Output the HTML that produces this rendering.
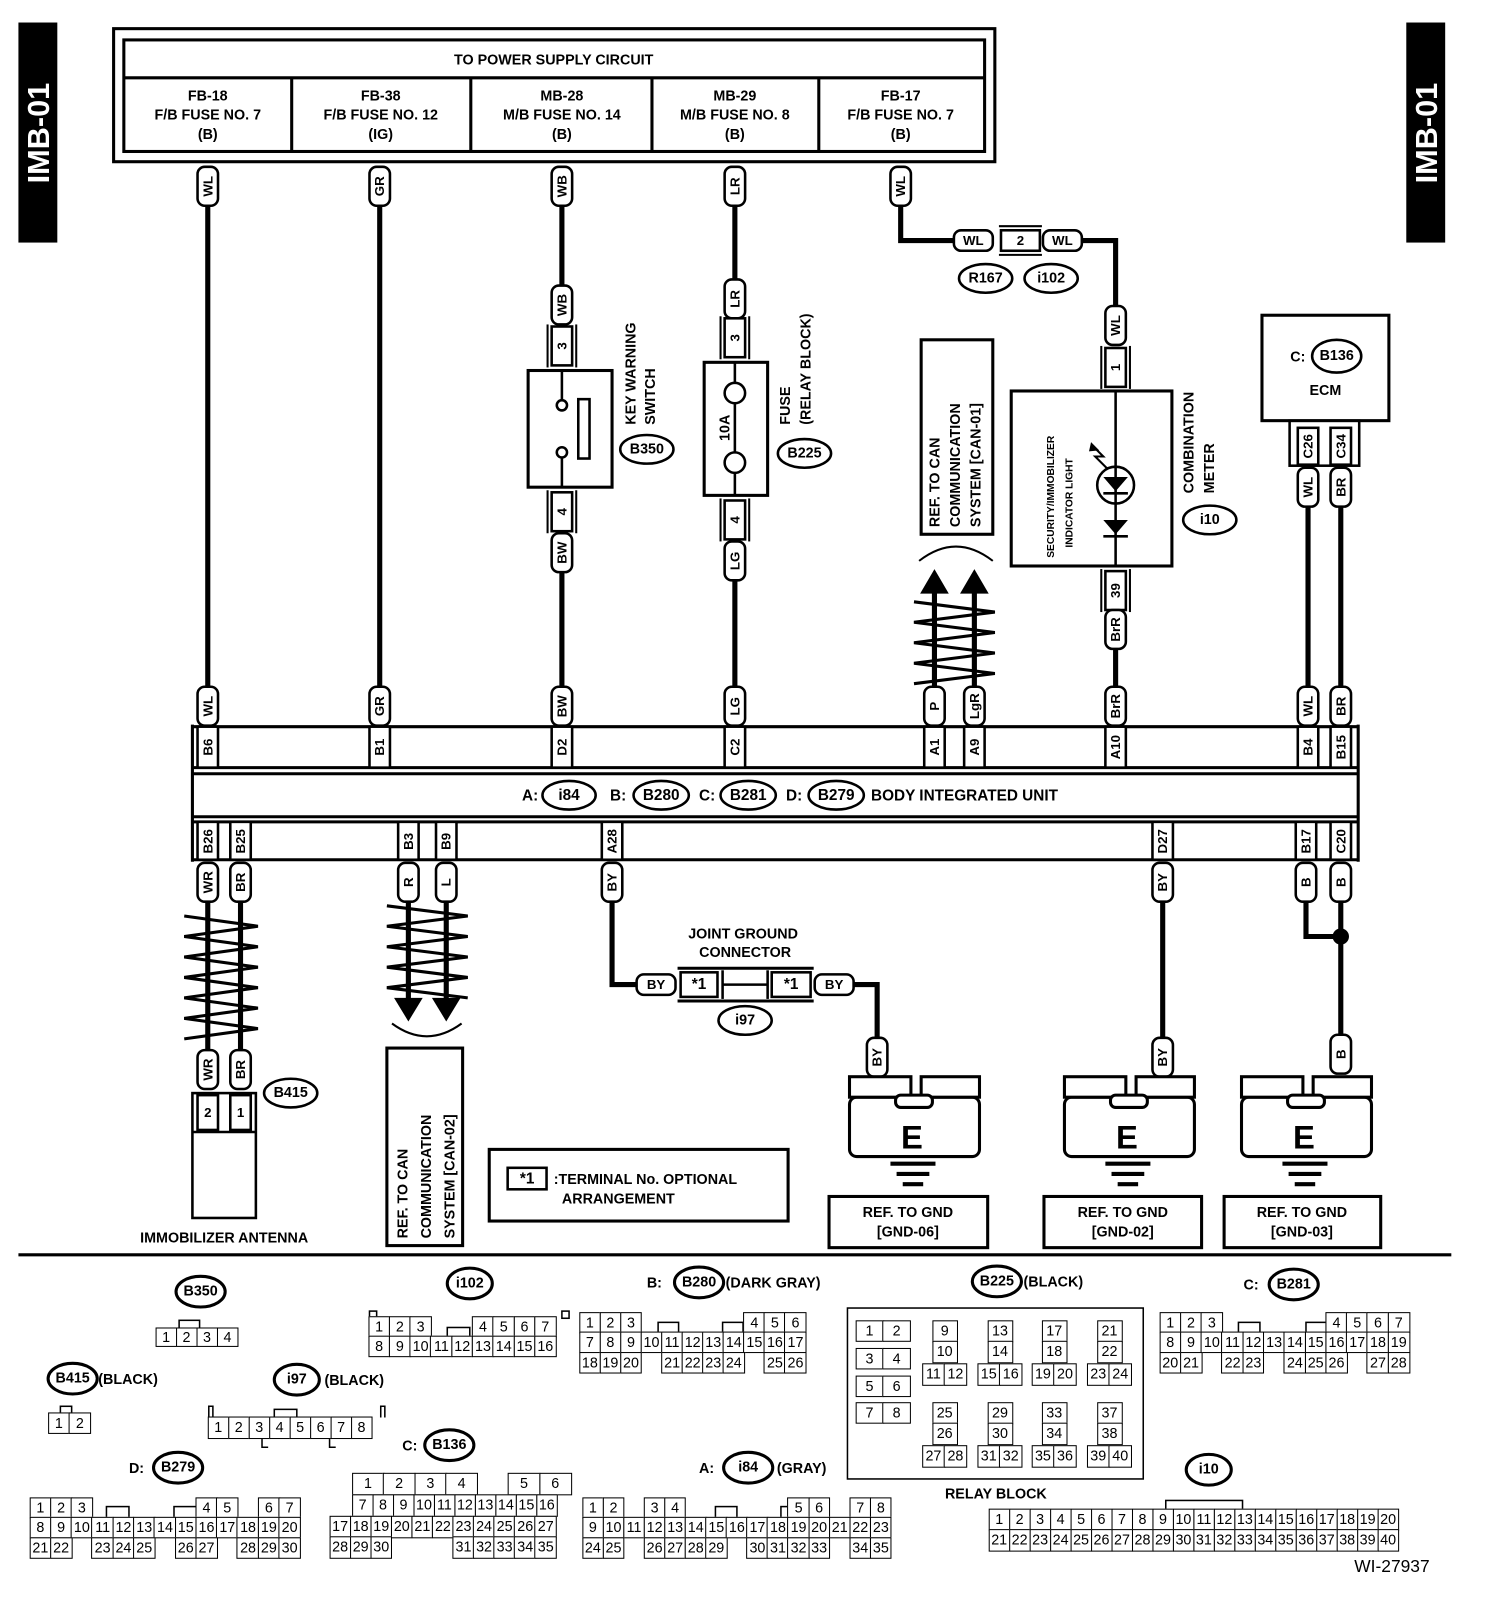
<!DOCTYPE html>
<html><head><meta charset="utf-8"><style>
html,body{margin:0;padding:0;background:#fff;overflow:hidden;width:1504px;height:1604px}
#w{position:relative;width:1460px;height:1567px;transform:scale(1.0235,1.0235);transform-origin:0 0;font-family:"Liberation Sans",sans-serif}
svg{position:absolute;left:0;top:0}
svg text{font-family:"Liberation Sans",sans-serif;font-weight:bold;fill:#000}
.pt{font-size:13px;text-anchor:middle;dominant-baseline:central}
.g{position:absolute;font-family:"Liberation Sans Narrow","Liberation Sans",sans-serif;font-size:14px}
.g div{display:flex;margin-top:-1.5px}
.g i{font-style:normal;display:block;box-sizing:border-box;width:var(--w);height:var(--h);line-height:calc(var(--h) - 3px);border:1.5px solid #000;margin-left:-1.5px;text-align:center;background:#fff}
.g i.n{border-color:transparent;background:transparent}
</style></head><body><div id="w">
<svg width="1460" height="1567" viewBox="0 0 1460 1567">
<defs>
<rect id="pv" x="-10" y="-19" width="20" height="38" rx="7" fill="#fff" stroke="#000" stroke-width="2.5"/>
<rect id="ph" x="-19" y="-10" width="38" height="20" rx="7" fill="#fff" stroke="#000" stroke-width="2.5"/>
<g id="tb"><rect x="-10" y="-19" width="20" height="38" fill="#fff" stroke="#000" stroke-width="2.5"/><line x1="-14" y1="-21" x2="-14" y2="21" stroke="#000" stroke-width="2"/><line x1="14" y1="-21" x2="14" y2="21" stroke="#000" stroke-width="2"/></g>
<g id="gnd" fill="#fff" stroke="#000" stroke-width="3">
<rect x="0" y="20" width="127" height="58" rx="7"/>
<rect x="0" y="0" width="60" height="20"/><rect x="70" y="0" width="57" height="20"/>
<rect x="45" y="18" width="36" height="12" rx="5"/>
<line x1="40" y1="85" x2="84" y2="85" stroke-width="4"/><line x1="46" y1="95" x2="78" y2="95" stroke-width="4"/><line x1="52" y1="105" x2="72" y2="105" stroke-width="4"/>
</g>
</defs>
<rect x="18" y="22" width="38" height="215" fill="#000"/>
<text transform="translate(48,130) rotate(-90)" style="font-size:30px;fill:#fff;text-anchor:middle">IMB-01</text>
<rect x="1374" y="22" width="38" height="215" fill="#000"/>
<text transform="translate(1404,130) rotate(-90)" style="font-size:30px;fill:#fff;text-anchor:middle">IMB-01</text>
<g fill="none" stroke="#000" stroke-width="3">
<rect x="111" y="28" width="861" height="130"/>
<rect x="121" y="39" width="841" height="109"/>
<line x1="121" y1="76" x2="962" y2="76"/>
<line x1="285" y1="76" x2="285" y2="148"/><line x1="460" y1="76" x2="460" y2="148"/><line x1="637" y1="76" x2="637" y2="148"/><line x1="800" y1="76" x2="800" y2="148"/>
</g>
<g style="font-size:14px;text-anchor:middle">
<text x="541" y="63">TO POWER SUPPLY CIRCUIT</text>
<text x="203" y="98">FB-18</text><text x="203" y="117">F/B FUSE NO. 7</text><text x="203" y="136">(B)</text>
<text x="372" y="98">FB-38</text><text x="372" y="117">F/B FUSE NO. 12</text><text x="372" y="136">(IG)</text>
<text x="549" y="98">MB-28</text><text x="549" y="117">M/B FUSE NO. 14</text><text x="549" y="136">(B)</text>
<text x="718" y="98">MB-29</text><text x="718" y="117">M/B FUSE NO. 8</text><text x="718" y="136">(B)</text>
<text x="880" y="98">FB-17</text><text x="880" y="117">F/B FUSE NO. 7</text><text x="880" y="136">(B)</text>
</g>
<g stroke="#000" stroke-width="5" fill="none">
<line x1="203" y1="195" x2="203" y2="675"/>
<line x1="371" y1="195" x2="371" y2="675"/>
<line x1="549" y1="195" x2="549" y2="285"/><line x1="549" y1="555" x2="549" y2="675"/>
<line x1="718" y1="195" x2="718" y2="280"/><line x1="718" y1="560" x2="718" y2="675"/>
<polyline points="880,195 880,235 935,235"/>
<polyline points="1055,235 1090,235 1090,305"/>
<line x1="1090" y1="630" x2="1090" y2="675"/>
<line x1="913" y1="575" x2="913" y2="675"/><line x1="952" y1="575" x2="952" y2="675"/>
<line x1="1278" y1="490" x2="1278" y2="675"/><line x1="1310" y1="490" x2="1310" y2="675"/>
<line x1="203" y1="878" x2="203" y2="1030"/><line x1="235" y1="878" x2="235" y2="1030"/>
<line x1="399" y1="878" x2="399" y2="985"/><line x1="436" y1="878" x2="436" y2="985"/>
<polyline points="598,878 598,962 625,962"/>
<polyline points="832,962 857,962 857,1018"/>
<line x1="1136" y1="878" x2="1136" y2="1018"/>
<polyline points="1276,878 1276,915 1310,915"/>
<line x1="1310" y1="878" x2="1310" y2="1012"/>
</g>
<circle cx="1310" cy="915" r="8" fill="#000"/>
<g stroke="#000" stroke-width="3" fill="none">
<polyline points="180,895 252,905 180,915 252,925 180,935 252,945 180,955 252,965 180,975 252,985 180,995 252,1005 180,1015"/>
<polyline points="378,885 457,895 378,905 457,915 378,925 457,935 378,945 457,955 378,965 457,975"/>
<polyline points="893,588 972,598 893,608 972,618 893,628 972,638 893,648 972,658 893,668"/>
<path d="M898,548 Q934,520 970,548" stroke-width="2"/>
<path d="M383,1000 Q417,1025 451,1000" stroke-width="2"/>
</g>
<polygon points="913,556 899,580 927,580" fill="#000"/><polygon points="952,556 938,580 966,580" fill="#000"/>
<polygon points="399,998 385,975 413,975" fill="#000"/><polygon points="436,998 422,975 450,975" fill="#000"/>
<g transform="translate(203,182)"><use href="#pv"/><text class="pt" transform="rotate(-90)">WL</text></g>
<g transform="translate(371,182)"><use href="#pv"/><text class="pt" transform="rotate(-90)">GR</text></g>
<g transform="translate(549,182)"><use href="#pv"/><text class="pt" transform="rotate(-90)">WB</text></g>
<g transform="translate(718,182)"><use href="#pv"/><text class="pt" transform="rotate(-90)">LR</text></g>
<g transform="translate(880,182)"><use href="#pv"/><text class="pt" transform="rotate(-90)">WL</text></g>
<g transform="translate(549,298)"><use href="#pv"/><text class="pt" transform="rotate(-90)">WB</text></g>
<g transform="translate(549,338)"><use href="#tb"/><text class="pt" transform="rotate(-90)">3</text></g>
<rect x="516" y="362" width="82" height="114" fill="#fff" stroke="#000" stroke-width="3"/>
<g stroke="#000" stroke-width="2.5" fill="#fff"><line x1="549" y1="362" x2="549" y2="391"/><line x1="549" y1="447" x2="549" y2="476"/><circle cx="549" cy="396" r="5"/><circle cx="549" cy="442" r="5"/><rect x="565" y="390" width="11" height="58"/></g>
<g transform="translate(549,500)"><use href="#tb"/><text class="pt" transform="rotate(-90)">4</text></g>
<g transform="translate(549,540)"><use href="#pv"/><text class="pt" transform="rotate(-90)">BW</text></g>
<text transform="translate(621,415) rotate(-90)" style="font-size:14px">KEY WARNING</text>
<text transform="translate(640,415) rotate(-90)" style="font-size:14px">SWITCH</text>
<ellipse cx="632" cy="439" rx="26" ry="14" fill="#fff" stroke="#000" stroke-width="2.5"/><text x="632" y="439" class="pt" style="font-size:14px">B350</text>
<g transform="translate(718,292)"><use href="#pv"/><text class="pt" transform="rotate(-90)">LR</text></g>
<g transform="translate(718,330)"><use href="#tb"/><text class="pt" transform="rotate(-90)">3</text></g>
<rect x="688" y="354" width="62" height="130" fill="#fff" stroke="#000" stroke-width="3"/>
<g stroke="#000" stroke-width="2.5" fill="#fff"><line x1="718" y1="354" x2="718" y2="484"/><circle cx="718" cy="384" r="10"/><circle cx="718" cy="452" r="10"/></g>
<text transform="translate(709,418) rotate(-90)" class="pt" style="font-size:14px">10A</text>
<g transform="translate(718,508)"><use href="#tb"/><text class="pt" transform="rotate(-90)">4</text></g>
<g transform="translate(718,548)"><use href="#pv"/><text class="pt" transform="rotate(-90)">LG</text></g>
<text transform="translate(772,415) rotate(-90)" style="font-size:14px">FUSE</text>
<text transform="translate(792,415) rotate(-90)" style="font-size:14px">(RELAY BLOCK)</text>
<ellipse cx="786" cy="443" rx="26" ry="14" fill="#fff" stroke="#000" stroke-width="2.5"/><text x="786" y="443" class="pt" style="font-size:14px">B225</text>
<g transform="translate(951,235)"><use href="#ph"/><text class="pt">WL</text></g>
<rect x="978" y="225" width="38" height="20" fill="#fff" stroke="#000" stroke-width="2.5"/><line x1="976" y1="221" x2="1018" y2="221" stroke="#000" stroke-width="2"/><line x1="976" y1="249" x2="1018" y2="249" stroke="#000" stroke-width="2"/><text x="997" y="235" class="pt">2</text>
<g transform="translate(1038,235)"><use href="#ph"/><text class="pt">WL</text></g>
<ellipse cx="963" cy="272" rx="26" ry="14" fill="#fff" stroke="#000" stroke-width="2.5"/><text x="963" y="272" class="pt" style="font-size:14px">R167</text>
<ellipse cx="1027" cy="272" rx="26" ry="14" fill="#fff" stroke="#000" stroke-width="2.5"/><text x="1027" y="272" class="pt" style="font-size:14px">i102</text>
<g transform="translate(1090,318)"><use href="#pv"/><text class="pt" transform="rotate(-90)">WL</text></g>
<g transform="translate(1090,359)"><use href="#tb"/><text class="pt" transform="rotate(-90)">1</text></g>
<rect x="988" y="382" width="157" height="171" fill="#fff" stroke="#000" stroke-width="3"/>
<line x1="1090" y1="382" x2="1090" y2="553" stroke="#000" stroke-width="2.5"/>
<circle cx="1090" cy="474" r="18" fill="none" stroke="#000" stroke-width="2.5"/>
<polygon points="1078,466 1102,466 1090,480" fill="#000"/><line x1="1078" y1="482" x2="1102" y2="482" stroke="#000" stroke-width="2.5"/>
<polygon points="1078,508 1102,508 1090,522" fill="#000"/><line x1="1078" y1="524" x2="1102" y2="524" stroke="#000" stroke-width="2.5"/>
<polyline points="1082,458 1070,446 1078,446 1068,436" fill="none" stroke="#000" stroke-width="2"/><polygon points="1066,432 1074,440 1064,441" fill="#000"/>
<text transform="translate(1030,545) rotate(-90)" style="font-size:10px">SECURITY/IMMOBILIZER</text>
<text transform="translate(1048,535) rotate(-90)" style="font-size:10px">INDICATOR LIGHT</text>
<g transform="translate(1090,577)"><use href="#tb"/><text class="pt" transform="rotate(-90)">39</text></g>
<g transform="translate(1090,615)"><use href="#pv"/><text class="pt" transform="rotate(-90)">BrR</text></g>
<text transform="translate(1166,482) rotate(-90)" style="font-size:14px">COMBINATION</text>
<text transform="translate(1186,482) rotate(-90)" style="font-size:14px">METER</text>
<ellipse cx="1182" cy="508" rx="26" ry="14" fill="#fff" stroke="#000" stroke-width="2.5"/><text x="1182" y="508" class="pt" style="font-size:14px">i10</text>
<rect x="900" y="332" width="70" height="190" fill="#fff" stroke="#000" stroke-width="3"/>
<text transform="translate(918,515) rotate(-90)" style="font-size:14px">REF. TO CAN</text>
<text transform="translate(938,515) rotate(-90)" style="font-size:14px">COMMUNICATION</text>
<text transform="translate(958,515) rotate(-90)" style="font-size:14px">SYSTEM [CAN-01]</text>
<rect x="1233" y="308" width="124" height="103" fill="#fff" stroke="#000" stroke-width="3"/>
<text x="1268" y="353" style="font-size:14px;text-anchor:middle">C:</text>
<ellipse cx="1306" cy="348" rx="24" ry="16" fill="#fff" stroke="#000" stroke-width="2.5"/><text x="1306" y="348" class="pt" style="font-size:14px">B136</text>
<text x="1295" y="386" style="font-size:14px;text-anchor:middle">ECM</text>
<rect x="1260" y="411" width="68" height="44" fill="none" stroke="#000" stroke-width="2.5"/>
<g transform="translate(1278,436)"><rect x="-10" y="-18" width="20" height="36" fill="#fff" stroke="#000" stroke-width="2.5"/><text class="pt" transform="rotate(-90)">C26</text></g>
<g transform="translate(1310,436)"><rect x="-10" y="-18" width="20" height="36" fill="#fff" stroke="#000" stroke-width="2.5"/><text class="pt" transform="rotate(-90)">C34</text></g>
<g transform="translate(1278,476)"><use href="#pv"/><text class="pt" transform="rotate(-90)">WL</text></g>
<g transform="translate(1310,476)"><use href="#pv"/><text class="pt" transform="rotate(-90)">BR</text></g>
<g transform="translate(203,690)"><use href="#pv"/><text class="pt" transform="rotate(-90)">WL</text></g>
<g transform="translate(371,690)"><use href="#pv"/><text class="pt" transform="rotate(-90)">GR</text></g>
<g transform="translate(549,690)"><use href="#pv"/><text class="pt" transform="rotate(-90)">BW</text></g>
<g transform="translate(718,690)"><use href="#pv"/><text class="pt" transform="rotate(-90)">LG</text></g>
<g transform="translate(913,690)"><use href="#pv"/><text class="pt" transform="rotate(-90)">P</text></g>
<g transform="translate(952,690)"><use href="#pv"/><text class="pt" transform="rotate(-90)">LgR</text></g>
<g transform="translate(1090,690)"><use href="#pv"/><text class="pt" transform="rotate(-90)">BrR</text></g>
<g transform="translate(1278,690)"><use href="#pv"/><text class="pt" transform="rotate(-90)">WL</text></g>
<g transform="translate(1310,690)"><use href="#pv"/><text class="pt" transform="rotate(-90)">BR</text></g>
<g stroke="#000" stroke-width="3" fill="none">
<line x1="188" y1="710" x2="1327" y2="710"/><line x1="188" y1="750" x2="1327" y2="750"/>
<line x1="188" y1="756" x2="1327" y2="756"/><line x1="188" y1="798" x2="1327" y2="798"/>
<line x1="188" y1="803" x2="1327" y2="803"/><line x1="188" y1="840" x2="1327" y2="840"/>
<line x1="188" y1="708" x2="188" y2="842"/><line x1="1327" y1="708" x2="1327" y2="842"/>
</g>
<g stroke="#000" stroke-width="2.5" fill="#fff">
<rect x="193" y="710" width="20" height="40"/><rect x="361" y="710" width="20" height="40"/><rect x="539" y="710" width="20" height="40"/><rect x="708" y="710" width="20" height="40"/><rect x="903" y="710" width="20" height="40"/><rect x="942" y="710" width="20" height="40"/><rect x="1080" y="710" width="20" height="40"/><rect x="1268" y="710" width="20" height="40"/><rect x="1300" y="710" width="20" height="40"/>
<rect x="193" y="803" width="20" height="37"/><rect x="225" y="803" width="20" height="37"/><rect x="389" y="803" width="20" height="37"/><rect x="426" y="803" width="20" height="37"/><rect x="588" y="803" width="20" height="37"/><rect x="1126" y="803" width="20" height="37"/><rect x="1266" y="803" width="20" height="37"/><rect x="1300" y="803" width="20" height="37"/>
</g>
<g>
<text class="pt" transform="translate(203,730) rotate(-90)">B6</text><text class="pt" transform="translate(371,730) rotate(-90)">B1</text><text class="pt" transform="translate(549,730) rotate(-90)">D2</text><text class="pt" transform="translate(718,730) rotate(-90)">C2</text><text class="pt" transform="translate(913,730) rotate(-90)">A1</text><text class="pt" transform="translate(952,730) rotate(-90)">A9</text><text class="pt" transform="translate(1090,730) rotate(-90)">A10</text><text class="pt" transform="translate(1278,730) rotate(-90)">B4</text><text class="pt" transform="translate(1310,730) rotate(-90)">B15</text>
<text class="pt" transform="translate(203,822) rotate(-90)">B26</text><text class="pt" transform="translate(235,822) rotate(-90)">B25</text><text class="pt" transform="translate(399,822) rotate(-90)">B3</text><text class="pt" transform="translate(436,822) rotate(-90)">B9</text><text class="pt" transform="translate(598,822) rotate(-90)">A28</text><text class="pt" transform="translate(1136,822) rotate(-90)">D27</text><text class="pt" transform="translate(1276,822) rotate(-90)">B17</text><text class="pt" transform="translate(1310,822) rotate(-90)">C20</text>
</g>
<g style="font-size:15px">
<text x="510" y="782">A:</text><ellipse cx="556" cy="777" rx="26" ry="14" fill="#fff" stroke="#000" stroke-width="2.5"/><text x="556" y="777" class="pt" style="font-size:15px">i84</text>
<text x="596" y="782">B:</text><ellipse cx="646" cy="777" rx="27" ry="14" fill="#fff" stroke="#000" stroke-width="2.5"/><text x="646" y="777" class="pt" style="font-size:15px">B280</text>
<text x="683" y="782">C:</text><ellipse cx="731" cy="777" rx="27" ry="14" fill="#fff" stroke="#000" stroke-width="2.5"/><text x="731" y="777" class="pt" style="font-size:15px">B281</text>
<text x="768" y="782">D:</text><ellipse cx="817" cy="777" rx="27" ry="14" fill="#fff" stroke="#000" stroke-width="2.5"/><text x="817" y="777" class="pt" style="font-size:15px">B279</text>
<text x="851" y="782">BODY INTEGRATED UNIT</text>
</g>
<g transform="translate(203,862)"><use href="#pv"/><text class="pt" transform="rotate(-90)">WR</text></g>
<g transform="translate(235,862)"><use href="#pv"/><text class="pt" transform="rotate(-90)">BR</text></g>
<g transform="translate(399,862)"><use href="#pv"/><text class="pt" transform="rotate(-90)">R</text></g>
<g transform="translate(436,862)"><use href="#pv"/><text class="pt" transform="rotate(-90)">L</text></g>
<g transform="translate(598,862)"><use href="#pv"/><text class="pt" transform="rotate(-90)">BY</text></g>
<g transform="translate(1136,862)"><use href="#pv"/><text class="pt" transform="rotate(-90)">BY</text></g>
<g transform="translate(1276,862)"><use href="#pv"/><text class="pt" transform="rotate(-90)">B</text></g>
<g transform="translate(1310,862)"><use href="#pv"/><text class="pt" transform="rotate(-90)">B</text></g>
<g transform="translate(203,1045)"><use href="#pv"/><text class="pt" transform="rotate(-90)">WR</text></g>
<g transform="translate(235,1045)"><use href="#pv"/><text class="pt" transform="rotate(-90)">BR</text></g>
<rect x="188" y="1068" width="62" height="122" fill="#fff" stroke="#000" stroke-width="2.5"/>
<line x1="188" y1="1106" x2="250" y2="1106" stroke="#000" stroke-width="2.5"/>
<rect x="193" y="1070" width="20" height="34" fill="#fff" stroke="#000" stroke-width="2.5"/><rect x="225" y="1070" width="20" height="34" fill="#fff" stroke="#000" stroke-width="2.5"/>
<text class="pt" x="203" y="1087">2</text><text class="pt" x="235" y="1087">1</text>
<ellipse cx="284" cy="1068" rx="26" ry="14" fill="#fff" stroke="#000" stroke-width="2.5"/><text x="284" y="1068" class="pt" style="font-size:14px">B415</text>
<text x="219" y="1214" style="font-size:14px;text-anchor:middle">IMMOBILIZER ANTENNA</text>
<rect x="378" y="1024" width="74" height="193" fill="#fff" stroke="#000" stroke-width="3"/>
<text transform="translate(398,1210) rotate(-90)" style="font-size:14px">REF. TO CAN</text>
<text transform="translate(421,1210) rotate(-90)" style="font-size:14px">COMMUNICATION</text>
<text transform="translate(444,1210) rotate(-90)" style="font-size:14px">SYSTEM [CAN-02]</text>
<text x="726" y="917" style="font-size:14px;text-anchor:middle">JOINT GROUND</text>
<text x="728" y="935" style="font-size:14px;text-anchor:middle">CONNECTOR</text>
<g transform="translate(641,962)"><use href="#ph"/><text class="pt">BY</text></g>
<g stroke="#000" stroke-width="2.5" fill="#fff">
<line x1="662" y1="946" x2="795" y2="946" stroke-width="3"/><line x1="662" y1="978" x2="795" y2="978" stroke-width="3"/>
<rect x="665" y="950" width="36" height="24"/><rect x="754" y="950" width="38" height="24"/>
<line x1="706" y1="948" x2="706" y2="976"/><line x1="750" y1="948" x2="750" y2="976"/>
<line x1="706" y1="962" x2="750" y2="962"/>
</g>
<text class="pt" x="683" y="962" style="font-size:15px">*1</text><text class="pt" x="773" y="962" style="font-size:15px">*1</text>
<g transform="translate(815,962)"><use href="#ph"/><text class="pt">BY</text></g>
<ellipse cx="728" cy="997" rx="26" ry="14" fill="#fff" stroke="#000" stroke-width="2.5"/><text x="728" y="997" class="pt" style="font-size:14px">i97</text>
<g transform="translate(857,1033)"><use href="#pv"/><text class="pt" transform="rotate(-90)">BY</text></g>
<g transform="translate(1136,1033)"><use href="#pv"/><text class="pt" transform="rotate(-90)">BY</text></g>
<g transform="translate(1310,1030)"><use href="#pv"/><text class="pt" transform="rotate(-90)">B</text></g>
<use href="#gnd" x="830" y="1052"/><text x="891" y="1122" style="font-size:32px;text-anchor:middle">E</text>
<use href="#gnd" x="1040" y="1052"/><text x="1101" y="1122" style="font-size:32px;text-anchor:middle">E</text>
<use href="#gnd" x="1213" y="1052"/><text x="1274" y="1122" style="font-size:32px;text-anchor:middle">E</text>
<g fill="#fff" stroke="#000" stroke-width="3"><rect x="810" y="1169" width="155" height="50"/><rect x="1020" y="1169" width="154" height="50"/><rect x="1196" y="1169" width="153" height="50"/></g>
<g style="font-size:14px;text-anchor:middle">
<text x="887" y="1189">REF. TO GND</text><text x="887" y="1208">[GND-06]</text>
<text x="1097" y="1189">REF. TO GND</text><text x="1097" y="1208">[GND-02]</text>
<text x="1272" y="1189">REF. TO GND</text><text x="1272" y="1208">[GND-03]</text>
</g>
<rect x="478" y="1123" width="292" height="70" fill="#fff" stroke="#000" stroke-width="3"/>
<rect x="496" y="1141" width="38" height="21" fill="#fff" stroke="#000" stroke-width="2.5"/><text class="pt" x="515" y="1152" style="font-size:15px">*1</text>
<text x="541" y="1157" style="font-size:14px">:TERMINAL No. OPTIONAL</text>
<text x="549" y="1176" style="font-size:14px">ARRANGEMENT</text>
<line x1="18" y1="1226" x2="1418" y2="1226" stroke="#000" stroke-width="3"/>
<g style="font-size:14px">
<ellipse cx="196" cy="1262" rx="24" ry="15" fill="#fff" stroke="#000" stroke-width="3"/><text x="196" y="1262" class="pt" style="font-size:14px">B350</text>
<ellipse cx="459" cy="1254" rx="22" ry="15" fill="#fff" stroke="#000" stroke-width="3"/><text x="459" y="1254" class="pt" style="font-size:14px">i102</text>
<text x="632" y="1258">B:</text><ellipse cx="683" cy="1253" rx="24" ry="15" fill="#fff" stroke="#000" stroke-width="3"/><text x="683" y="1253" class="pt" style="font-size:14px">B280</text><text x="709" y="1258">(DARK GRAY)</text>
<ellipse cx="974" cy="1252" rx="24" ry="15" fill="#fff" stroke="#000" stroke-width="3"/><text x="974" y="1252" class="pt" style="font-size:14px">B225</text><text x="1000" y="1257">(BLACK)</text>
<text x="1215" y="1260">C:</text><ellipse cx="1264" cy="1255" rx="24" ry="15" fill="#fff" stroke="#000" stroke-width="3"/><text x="1264" y="1255" class="pt" style="font-size:14px">B281</text>
<ellipse cx="71" cy="1347" rx="24" ry="15" fill="#fff" stroke="#000" stroke-width="3"/><text x="71" y="1347" class="pt" style="font-size:14px">B415</text><text x="96" y="1352">(BLACK)</text>
<ellipse cx="290" cy="1348" rx="22" ry="15" fill="#fff" stroke="#000" stroke-width="3"/><text x="290" y="1348" class="pt" style="font-size:14px">i97</text><text x="317" y="1353">(BLACK)</text>
<text x="393" y="1417">C:</text><ellipse cx="439" cy="1412" rx="24" ry="15" fill="#fff" stroke="#000" stroke-width="3"/><text x="439" y="1412" class="pt" style="font-size:14px">B136</text>
<text x="126" y="1439">D:</text><ellipse cx="174" cy="1434" rx="24" ry="15" fill="#fff" stroke="#000" stroke-width="3"/><text x="174" y="1434" class="pt" style="font-size:14px">B279</text>
<text x="683" y="1439">A:</text><ellipse cx="731" cy="1434" rx="24" ry="15" fill="#fff" stroke="#000" stroke-width="3"/><text x="731" y="1434" class="pt" style="font-size:14px">i84</text><text x="759" y="1439">(GRAY)</text>
<ellipse cx="1181" cy="1436" rx="22" ry="15" fill="#fff" stroke="#000" stroke-width="3"/><text x="1181" y="1436" class="pt" style="font-size:14px">i10</text>
<text x="973" y="1464" style="text-anchor:middle">RELAY BLOCK</text>
<text x="1360" y="1536" style="font-weight:normal;font-size:17px;text-anchor:middle">WI-27937</text>
</g>
<g fill="#fff" stroke="#000" stroke-width="1.5">
<rect x="175" y="1290" width="20" height="8"/>
<rect x="59" y="1374" width="11" height="7"/>
<rect x="268" y="1377" width="22" height="9"/><polyline points="204,1385 204,1374 208,1374 208,1385" fill="none"/><polyline points="372,1385 372,1374 376,1374 376,1385" fill="none"/>
<polyline points="256,1406 256,1414 262,1414" fill="none"/><polyline points="322,1406 322,1414 328,1414" fill="none"/>
<rect x="437" y="1297" width="22" height="10"/><rect x="361" y="1281" width="7" height="7"/><rect x="549" y="1281" width="7" height="7"/>
<rect x="643" y="1292" width="20" height="12"/><rect x="706" y="1292" width="20" height="12"/>
<rect x="1210" y="1292" width="21" height="12"/><rect x="1276" y="1292" width="21" height="12"/>
<rect x="104" y="1472" width="22" height="13"/><rect x="170" y="1472" width="22" height="13"/>
<rect x="699" y="1472" width="21" height="13"/><rect x="763" y="1472" width="21" height="13"/>
<rect x="1139" y="1466" width="75" height="10"/>
<rect x="828" y="1278" width="289" height="167"/>
</g>
</svg>

<div class="g" style="left:153px;top:1298px;--w:21.5px;--h:19px"><div><i>1</i><i>2</i><i>3</i><i>4</i></div></div>
<div class="g" style="left:48px;top:1381px;--w:22px;--h:21px"><div><i>1</i><i>2</i></div></div>
<div class="g" style="left:204px;top:1385px;--w:21.5px;--h:22px"><div><i>1</i><i>2</i><i>3</i><i>4</i><i>5</i><i>6</i><i>7</i><i>8</i></div></div>
<div class="g" style="left:361px;top:1287px;--w:21.8px;--h:21px"><div><i>1</i><i>2</i><i>3</i><i class="n"></i><i class="n"></i><i>4</i><i>5</i><i>6</i><i>7</i></div><div><i>8</i><i>9</i><i>10</i><i>11</i><i>12</i><i>13</i><i>14</i><i>15</i><i>16</i></div></div>
<div class="g" style="left:567px;top:1283px;--w:21.6px;--h:21px"><div><i>1</i><i>2</i><i>3</i><i class="n"></i><i class="n"></i><i class="n"></i><i class="n"></i><i class="n"></i><i>4</i><i>5</i><i>6</i></div><div><i>7</i><i>8</i><i>9</i><i>10</i><i>11</i><i>12</i><i>13</i><i>14</i><i>15</i><i>16</i><i>17</i></div><div><i>18</i><i>19</i><i>20</i><i class="n"></i><i>21</i><i>22</i><i>23</i><i>24</i><i class="n"></i><i>25</i><i>26</i></div></div>
<div class="g" style="left:1134px;top:1283px;--w:21.8px;--h:21px"><div><i>1</i><i>2</i><i>3</i><i class="n"></i><i class="n"></i><i class="n"></i><i class="n"></i><i class="n"></i><i>4</i><i>5</i><i>6</i><i>7</i></div><div><i>8</i><i>9</i><i>10</i><i>11</i><i>12</i><i>13</i><i>14</i><i>15</i><i>16</i><i>17</i><i>18</i><i>19</i></div><div><i>20</i><i>21</i><i class="n"></i><i>22</i><i>23</i><i class="n"></i><i>24</i><i>25</i><i>26</i><i class="n"></i><i>27</i><i>28</i></div></div>
<div class="g" style="left:30px;top:1464px;--w:21.8px;--h:21px"><div><i>1</i><i>2</i><i>3</i><i class="n"></i><i class="n"></i><i class="n"></i><i class="n"></i><i class="n"></i><i>4</i><i>5</i><i class="n"></i><i>6</i><i>7</i></div><div><i>8</i><i>9</i><i>10</i><i>11</i><i>12</i><i>13</i><i>14</i><i>15</i><i>16</i><i>17</i><i>18</i><i>19</i><i>20</i></div><div><i>21</i><i>22</i><i class="n"></i><i>23</i><i>24</i><i>25</i><i class="n"></i><i>26</i><i>27</i><i class="n"></i><i>28</i><i>29</i><i>30</i></div></div>
<div class="g" style="left:345px;top:1440px;--w:32px;--h:22px"><div><i>1</i><i>2</i><i>3</i><i>4</i><i class="n"></i><i>5</i><i>6</i></div></div>
<div class="g" style="left:345px;top:1461px;--w:21.5px;--h:22px"><div><i>7</i><i>8</i><i>9</i><i>10</i><i>11</i><i>12</i><i>13</i><i>14</i><i>15</i><i>16</i></div></div>
<div class="g" style="left:323px;top:1482px;--w:21.6px;--h:22px"><div><i>17</i><i>18</i><i>19</i><i>20</i><i>21</i><i>22</i><i>23</i><i>24</i><i>25</i><i>26</i><i>27</i></div><div><i>28</i><i>29</i><i>30</i><i class="n"></i><i class="n"></i><i class="n"></i><i>31</i><i>32</i><i>33</i><i>34</i><i>35</i></div></div>
<div class="g" style="left:570px;top:1464px;--w:21.6px;--h:21px"><div><i>1</i><i>2</i><i class="n"></i><i>3</i><i>4</i><i class="n"></i><i class="n"></i><i class="n"></i><i class="n"></i><i class="n"></i><i>5</i><i>6</i><i class="n"></i><i>7</i><i>8</i></div><div><i>9</i><i>10</i><i>11</i><i>12</i><i>13</i><i>14</i><i>15</i><i>16</i><i>17</i><i>18</i><i>19</i><i>20</i><i>21</i><i>22</i><i>23</i></div><div><i>24</i><i>25</i><i class="n"></i><i>26</i><i>27</i><i>28</i><i>29</i><i class="n"></i><i>30</i><i>31</i><i>32</i><i>33</i><i class="n"></i><i>34</i><i>35</i></div></div>
<div class="g" style="left:967px;top:1475px;--w:21.5px;--h:22px"><div><i>1</i><i>2</i><i>3</i><i>4</i><i>5</i><i>6</i><i>7</i><i>8</i><i>9</i><i>10</i><i>11</i><i>12</i><i>13</i><i>14</i><i>15</i><i>16</i><i>17</i><i>18</i><i>19</i><i>20</i></div><div><i>21</i><i>22</i><i>23</i><i>24</i><i>25</i><i>26</i><i>27</i><i>28</i><i>29</i><i>30</i><i>31</i><i>32</i><i>33</i><i>34</i><i>35</i><i>36</i><i>37</i><i>38</i><i>39</i><i>40</i></div></div>
<div class="g" style="left:837px;top:1291px;--w:28px;--h:21px"><div><i>1</i><i>2</i></div></div>
<div class="g" style="left:837px;top:1318px;--w:28px;--h:21px"><div><i>3</i><i>4</i></div></div>
<div class="g" style="left:837px;top:1345px;--w:28px;--h:21px"><div><i>5</i><i>6</i></div></div>
<div class="g" style="left:837px;top:1371px;--w:28px;--h:21px"><div><i>7</i><i>8</i></div></div>
<div class="g" style="left:912px;top:1291px;--w:25px;--h:22px"><div><i>9</i></div><div><i>10</i></div></div>
<div class="g" style="left:902px;top:1333px;--w:23px;--h:22px"><div><i>11</i><i>12</i></div></div>
<div class="g" style="left:966px;top:1291px;--w:25px;--h:22px"><div><i>13</i></div><div><i>14</i></div></div>
<div class="g" style="left:956px;top:1333px;--w:23px;--h:22px"><div><i>15</i><i>16</i></div></div>
<div class="g" style="left:1019px;top:1291px;--w:25px;--h:22px"><div><i>17</i></div><div><i>18</i></div></div>
<div class="g" style="left:1009px;top:1333px;--w:23px;--h:22px"><div><i>19</i><i>20</i></div></div>
<div class="g" style="left:1073px;top:1291px;--w:25px;--h:22px"><div><i>21</i></div><div><i>22</i></div></div>
<div class="g" style="left:1063px;top:1333px;--w:23px;--h:22px"><div><i>23</i><i>24</i></div></div>
<div class="g" style="left:912px;top:1371px;--w:25px;--h:22px"><div><i>25</i></div><div><i>26</i></div></div>
<div class="g" style="left:902px;top:1413px;--w:23px;--h:22px"><div><i>27</i><i>28</i></div></div>
<div class="g" style="left:966px;top:1371px;--w:25px;--h:22px"><div><i>29</i></div><div><i>30</i></div></div>
<div class="g" style="left:956px;top:1413px;--w:23px;--h:22px"><div><i>31</i><i>32</i></div></div>
<div class="g" style="left:1019px;top:1371px;--w:25px;--h:22px"><div><i>33</i></div><div><i>34</i></div></div>
<div class="g" style="left:1009px;top:1413px;--w:23px;--h:22px"><div><i>35</i><i>36</i></div></div>
<div class="g" style="left:1073px;top:1371px;--w:25px;--h:22px"><div><i>37</i></div><div><i>38</i></div></div>
<div class="g" style="left:1063px;top:1413px;--w:23px;--h:22px"><div><i>39</i><i>40</i></div></div>
</div></body></html>
